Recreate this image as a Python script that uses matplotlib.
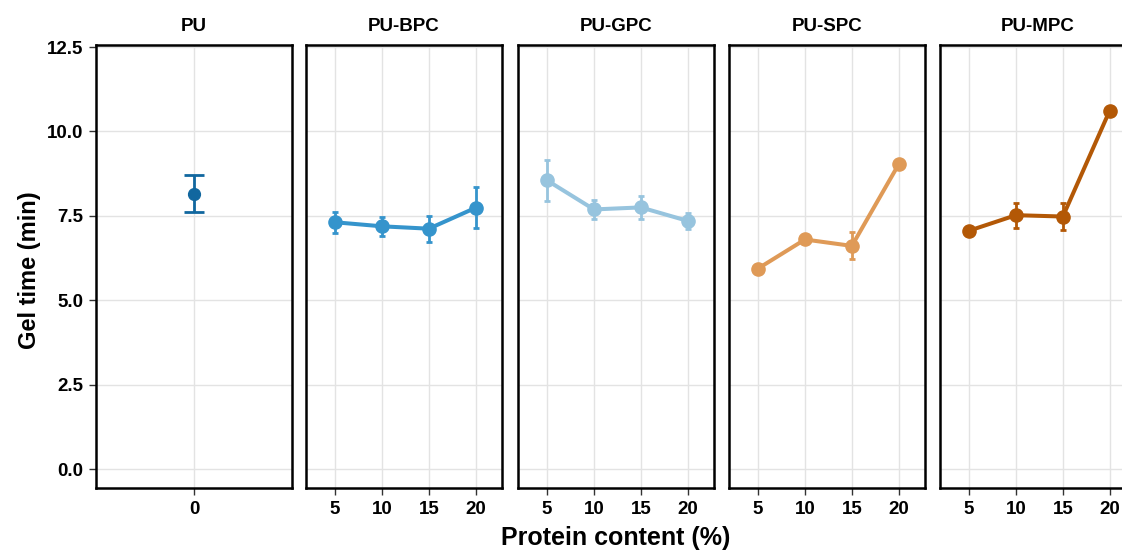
import numpy as np
import matplotlib.pyplot as plt

plt.rcParams['font.family'] = ['Liberation Sans', 'DejaVu Sans']
plt.rcParams['font.weight'] = 'bold'

# data
groups = ['PU', 'PU-BPC', 'PU-GPC', 'PU-SPC', 'PU-MPC']
colors = ['#11679f', '#3594cc', '#97c4de', '#df9a57', '#b35806']

pu_x = [0]
pu_mean = [8.16]
pu_err = [0.55]

content = [5, 10, 15, 20]
bpc_mean = [7.31, 7.19, 7.12, 7.74]
bpc_err = [0.31, 0.29, 0.39, 0.60]
gpc_mean = [8.55, 7.69, 7.75, 7.35]
gpc_err = [0.60, 0.29, 0.33, 0.24]
spc_mean = [5.94, 6.80, 6.61, 9.03]
spc_err = [0.10, 0.12, 0.40, 0.08]
mpc_mean = [7.06, 7.52, 7.48, 10.62]
mpc_err = [0.06, 0.37, 0.41, 0.06]

series = [(pu_x, pu_mean, pu_err),
          (content, bpc_mean, bpc_err),
          (content, gpc_mean, gpc_err),
          (content, spc_mean, spc_err),
          (content, mpc_mean, mpc_err)]

W, H = 1122, 550
fig = plt.figure(figsize=(W / 100, H / 100), dpi=100)

lefts = [96, 306, 518, 729, 940]
pw = 196
top, bottom = 45, 488

for i, (name, col, (x, m, e)) in enumerate(zip(groups, colors, series)):
    ax = fig.add_axes([lefts[i] / W, (H - bottom) / H, pw / W, (bottom - top) / H])
    ax.set_ylim(-0.56, 12.56)
    ax.set_yticks([0, 2.5, 5, 7.5, 10, 12.5])
    ax.grid(True, color='#e3e3e3', linewidth=1.0)
    ax.set_axisbelow(True)
    if i == 0:
        ax.set_xlim(-1, 1)
        ax.set_xticks([0])
        ax.errorbar(x, m, yerr=e, fmt='o', color=col, markersize=8.5,
                    elinewidth=2.0, capsize=7, capthick=2.0, zorder=3)
        ax.set_yticklabels(['0.0', '2.5', '5.0', '7.5', '10.0', '12.5'])
    else:
        ax.set_xlim(1.9, 22.8)
        ax.set_xticks(content)
        ax.errorbar(x, m, yerr=e, fmt='-o', color=col, markersize=9.5,
                    linewidth=2.9, elinewidth=2.0, capsize=2, capthick=2.0, zorder=3)
        ax.tick_params(axis='y', left=False, labelleft=False)
    for s in ax.spines.values():
        s.set_linewidth(1.8)
        s.set_color('black')
    ax.tick_params(axis='both', labelsize=13.5, length=5, width=1, color='#333333', pad=4)
    for lbl in ax.get_xticklabels() + ax.get_yticklabels():
        lbl.set_fontweight('bold')
    ax.set_title(name, fontsize=13.5, fontweight='bold', pad=10)

fig.text(616 / W, 1 - 538 / H, 'Protein content (%)', ha='center', va='center',
         fontsize=18, fontweight='bold')
fig.text(30 / W, 1 - 270 / H, 'Gel time (min)', ha='center', va='center',
         rotation=90, fontsize=17, fontweight='bold')

fig.savefig('out.png', dpi=100)
